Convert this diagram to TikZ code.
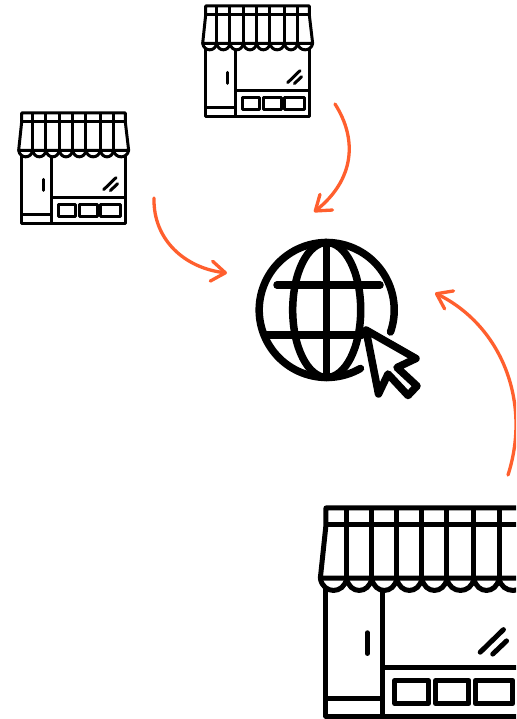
\documentclass[tikz,border=0pt]{standalone}
\usepackage{xcolor}
\usetikzlibrary{arrows.meta}
\usetikzlibrary{math}
\definecolor{reachorange}{RGB}{255,95,46}
\tikzset{
reach/.style={draw=reachorange, line width=3.3pt, line cap=round,
  -{Straight Barb[length=14pt,width=20pt,round]}},
pics/shop/.style={code={
\draw[line join=round] (38,130) -- (47,45) -- (47,18) -- (358,18) -- (358,45) -- (368,130) -- cycle;
\draw (47,45) -- (358,45);
\foreach \x in {80,120,160,200,240,283,323}{
  \draw (\x,18) -- (\x,130);
}
\foreach \a/\b in {38/80,80/120,120/160,160/200,200/240,240/283,283/323,323/368}{
  \draw (\a,130) .. controls (\a+4,156) and (\b-4,156) .. (\b,130);
}
\draw[line join=round] (47,145) -- (47,350) -- (358,350) -- (358,145);
\draw (137,148) -- (137,350);
\draw (47,322) -- (137,322);
\draw (137,272) -- (358,272);
\draw[line cap=round] (113,217) -- (113,250);
\foreach \a/\b in {157/210,222/275,285/345}{
  \draw[line join=round] (\a,293) rectangle (\b,330);
}
\draw[line cap=round] (293,248) -- (330,212);
\draw[line cap=round] (313,251) -- (335,230);
}}
}
\begin{document}
\begin{tikzpicture}[x=1pt,y=-1pt]
\tikzmath{
\Rg=67.5;
\Rm=34;
}
\useasboundingbox (0,0) rectangle (516,719);
\clip (0,0) rectangle (516,719);
\fill[white] (0,0) rectangle (516,719);

\pic[scale=0.3333,line width=3pt] at (190,0) {shop};
\pic[scale=0.3333,line width=3pt] at (6,107) {shop};
\pic[scale=0.627,line width=5pt] at (296.5,496.7) {shop};

\coordinate (G) at (326.7,310);
\begin{scope}[line width=7.5pt]
\draw[line cap=round] (G) ++(19:\Rg) arc[start angle=19, delta angle=-319, radius=\Rg];
\draw (G) ellipse [x radius=\Rm, y radius=\Rg];
\draw (G) ++(0,-\Rg) -- ++(0,2*\Rg);
\draw[line cap=round] (277,285) -- (380,285);
\draw[line cap=round] (265,335) -- (362,335);
\draw[fill=white,line join=round] (366,330) -- (416,358.5) -- (397,367.5) -- (417,386) -- (408,395.5) -- (388,374) -- (378.5,394) -- cycle;
\end{scope}

\coordinate (shopaout) at (335,104);
\coordinate (shopbout) at (154,198);
\coordinate (shopcout) at (508,475);
\coordinate (globetop) at (314,212);
\coordinate (globeleft) at (227,273);
\coordinate (globeright) at (435,293);
\draw[reach] (shopaout) .. controls (358,140) and (354,180) .. (globetop);
\draw[reach] (shopbout) .. controls (153,240) and (185,268) .. (globeleft);
\draw[reach] (shopcout) .. controls (532,400) and (500,325) .. (globeright);
\end{tikzpicture}
\end{document}
